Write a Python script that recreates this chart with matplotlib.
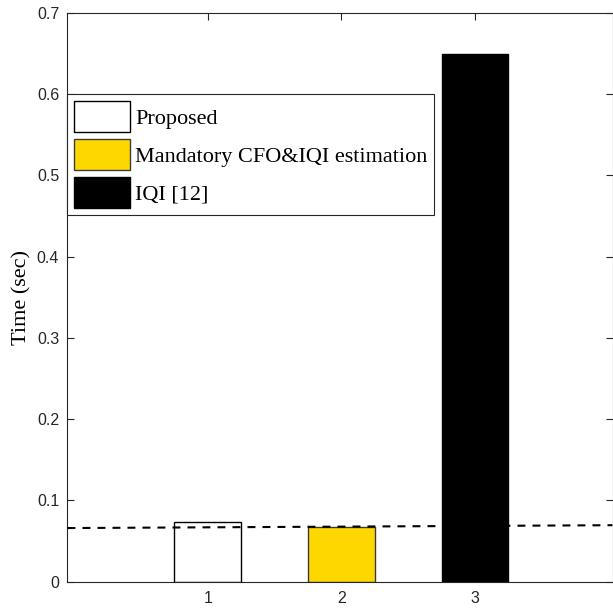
import numpy as np
import matplotlib
matplotlib.use("Agg")
import matplotlib.pyplot as plt

# data
positions = [1, 2, 3]
times = [0.074, 0.067, 0.649]
labels = ["Proposed", "Mandatory CFO&IQI estimation", "IQI [12]"]
colours = ["white", "#FFD700", "black"]
edges = ["black", "#3a3a3a", "black"]
ref_x = [-0.05, 4.03]
ref_y = [0.066, 0.0695]
y_ticks = [0, 0.1, 0.2, 0.3, 0.4, 0.5, 0.6, 0.7]

axis_col = "#262626"
serif = "Liberation Serif"
sans = "Liberation Sans"

fig = plt.figure(figsize=(6.13, 6.11), dpi=100)
ax = fig.add_axes([0.1101, 0.048, 0.8891, 0.9307])

# one bar per method so each gets its own legend entry
for pos, t, lab, c, e in zip(positions, times, labels, colours, edges):
    ax.bar(pos, t, width=0.5, color=c, edgecolor=e, linewidth=1.0, label=lab, zorder=2)

ax.plot(ref_x, ref_y, color="black", linestyle="--", linewidth=1.5,
        dashes=(3.8, 3.4), zorder=3)

ax.set_xlim(ref_x[0], ref_x[1])
ax.set_ylim(0, 0.7)
ax.set_xticks(positions)
ax.set_yticks(y_ticks)
ax.set_yticklabels(["0"] + ["%.1f" % v for v in y_ticks[1:]])

ax.tick_params(direction="in", length=5, width=0.8, colors=axis_col,
               top=True, right=True, labelsize=11.5)
ax.tick_params(axis="x", pad=7)
ax.tick_params(axis="y", pad=6)
for tick in ax.get_xticklabels() + ax.get_yticklabels():
    tick.set_fontfamily(sans)
    tick.set_color(axis_col)
for sp in ax.spines.values():
    sp.set_color(axis_col)
    sp.set_linewidth(0.8)

ax.set_ylabel("Time (sec)", fontsize=16, fontfamily=serif, labelpad=4)

lgd = ax.legend(loc="upper left", bbox_to_anchor=(0.0, 0.6 / 0.7),
                borderaxespad=0, borderpad=0.3, handlelength=2.52,
                handleheight=1.77, handletextpad=0.23, labelspacing=0.32,
                fancybox=False, framealpha=1, edgecolor=axis_col,
                prop={"family": serif, "size": 16})
lgd.get_frame().set_linewidth(0.8)

fig.savefig("out.png", dpi=100)
